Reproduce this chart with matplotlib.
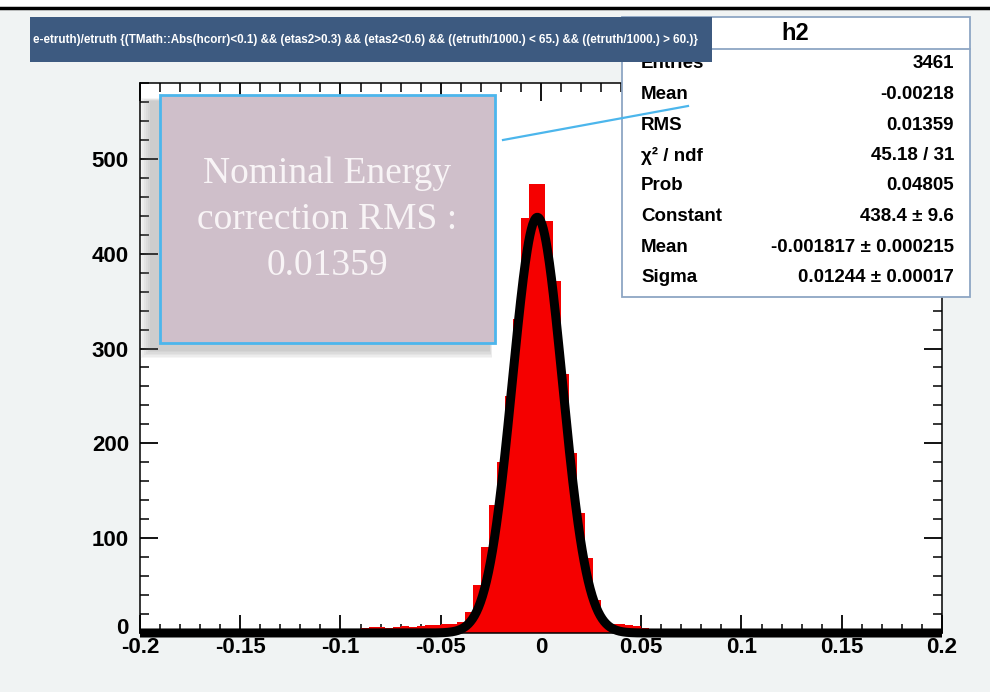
import matplotlib
matplotlib.use("Agg")
import matplotlib.pyplot as plt
import matplotlib.transforms as mtransforms
from matplotlib import font_manager
from matplotlib.patches import Rectangle
import numpy as np

# histogram h2: bins of width 0.004, centred on multiples of 0.004
bin_width = 0.004
first_center = -0.088
counts = [5, 6, 6, 5, 6, 7, 6, 7, 8, 8, 9, 10, 12, 22, 51, 91, 135, 180, 250,
          331, 438, 473, 473, 434, 371, 273, 190, 127, 79, 35, 14, 9, 9, 8, 7, 5]

# gaussian fit parameters (from the stats box)
fit_constant = 438.4
fit_mean = -0.001817
fit_sigma = 0.01244

x_ticks = [-0.2, -0.15, -0.1, -0.05, 0, 0.05, 0.1, 0.15, 0.2]
x_labels = ["-0.2", "-0.15", "-0.1", "-0.05", "0", "0.05", "0.1", "0.15", "0.2"]
y_ticks = [0, 100, 200, 300, 400, 500]

stat_names = ["Entries", "Mean", "RMS", "\u03c7\u00b2 / ndf", "Prob", "Constant", "Mean", "Sigma"]
stat_values = ["3461", "-0.00218", "0.01359", "45.18 / 31", "0.04805",
               "438.4 \u00b1 9.6", "-0.001817 \u00b1 0.000215", "0.01244 \u00b1 0.00017"]

title_text = ("e-etruth)/etruth {(TMath::Abs(hcorr)<0.1) && (etas2>0.3) && (etas2<0.6) "
              "&& ((etruth/1000.) < 65.) && ((etruth/1000.) > 60.)}")
note_lines = ["Nominal Energy", "correction RMS :", "0.01359"]

names = {f.name for f in font_manager.fontManager.ttflist}
narrow = "Liberation Sans Narrow" if "Liberation Sans Narrow" in names else "Liberation Sans"

W, H = 990, 692
fig = plt.figure(figsize=(W / 100, H / 100), dpi=100)
fig.patch.set_facecolor("#f0f3f3")

ax = fig.add_axes([140 / W, 1 - 633 / H, 802 / W, 550 / H])
ax.set_facecolor("white")

centers = first_center + bin_width * np.arange(len(counts))
ax.bar(centers, counts, width=bin_width, color="#f50000", linewidth=0, zorder=2)

xf = np.linspace(-0.2, 0.2, 1200)
yf = fit_constant * np.exp(-0.5 * ((xf - fit_mean) / fit_sigma) ** 2)
ax.plot(xf, yf, color="black", lw=6.5, zorder=3, clip_on=False, solid_capstyle="butt")

ax.set_xlim(-0.2, 0.2)
ax.set_ylim(0, 580)
ax.set_xticks(x_ticks)
ax.set_xticklabels(x_labels)
ax.set_xticks(np.arange(-0.2, 0.2001, 0.01), minor=True)
ax.set_yticks(y_ticks)
ax.set_yticks(np.arange(0, 581, 20), minor=True)
ax.tick_params(which="both", direction="in", top=True, right=True, color="black")
ax.tick_params(which="major", length=13, width=1.3)
ax.tick_params(which="minor", length=6.5, width=1.1)
ax.tick_params(axis="x", pad=3)
ax.tick_params(axis="y", pad=8)
for lab in ax.get_xticklabels() + ax.get_yticklabels():
    lab.set_fontfamily(narrow)
    lab.set_fontweight("bold")
    lab.set_fontsize(16)
for s in ax.spines.values():
    s.set_linewidth(1.1)

# lift the "0" on the y axis a little so it sits just above "-0.2"
zero_lab = ax.get_yticklabels()[0]
zero_lab.set_transform(zero_lab.get_transform()
                       + mtransforms.ScaledTranslation(0, 5 / 72, fig.dpi_scale_trans))

# overlay in pixel coordinates for the pads drawn on top of the plot
ov = fig.add_axes([0, 0, 1, 1])
ov.set_xlim(0, W)
ov.set_ylim(H, 0)
ov.axis("off")
ov.patch.set_alpha(0)

ov.add_patch(Rectangle((0, 0), W, 7, fc="white", ec="none"))
ov.plot([0, W], [8, 8], color="black", lw=2.5)

# stats box
ov.add_patch(Rectangle((622, 17), 348, 280, fc="white", ec="#8ea6c4", lw=1.3, zorder=2))
ov.plot([712, 970], [49, 49], color="#8ea6c4", lw=1.3, zorder=2)
ov.text(795, 33, "h2", ha="center", va="center", fontsize=17, fontweight="bold",
        family="Liberation Sans", zorder=3)
for i, (n, v) in enumerate(zip(stat_names, stat_values)):
    yy = 64 + i * 30.5
    ov.text(641, yy, n, ha="left", va="center", fontsize=13.5, fontweight="bold",
            family=narrow, zorder=3)
    ov.text(954, yy, v, ha="right", va="center", fontsize=13.5, fontweight="bold",
            family=narrow, zorder=3)

# title bar
ov.add_patch(Rectangle((30, 17), 682, 45, fc="#3d5a80", ec="none", zorder=4))
t = ov.text(33, 40, title_text, ha="left", va="center", fontsize=8.4, fontweight="bold",
            color="white", family="Liberation Sans", zorder=5)
t.set_clip_path(Rectangle((30, 17), 680, 45, transform=ov.transData))

# note box with soft shadow and callout
ov.plot([503, 688], [140, 106], color="#4cb6ec", lw=1.6, zorder=6)
for k in range(6):
    grow = 2 * k
    ov.add_patch(Rectangle((150 - grow, 101 - grow * 0.3), 340 + grow * 1.2, 250 + grow,
                           fc="#7a7a7a", ec="none", alpha=0.07, zorder=6))
ov.add_patch(Rectangle((160, 95), 335, 248, fc="#cfbfca", ec="#4cb6ec", lw=2, zorder=7))
for i, line in enumerate(note_lines):
    ov.text(327, 174 + i * 46, line, ha="center", va="center", fontsize=27,
            family="Liberation Serif", color="#f8f4f6", zorder=8)

fig.savefig("out.png", dpi=100, facecolor=fig.get_facecolor())
